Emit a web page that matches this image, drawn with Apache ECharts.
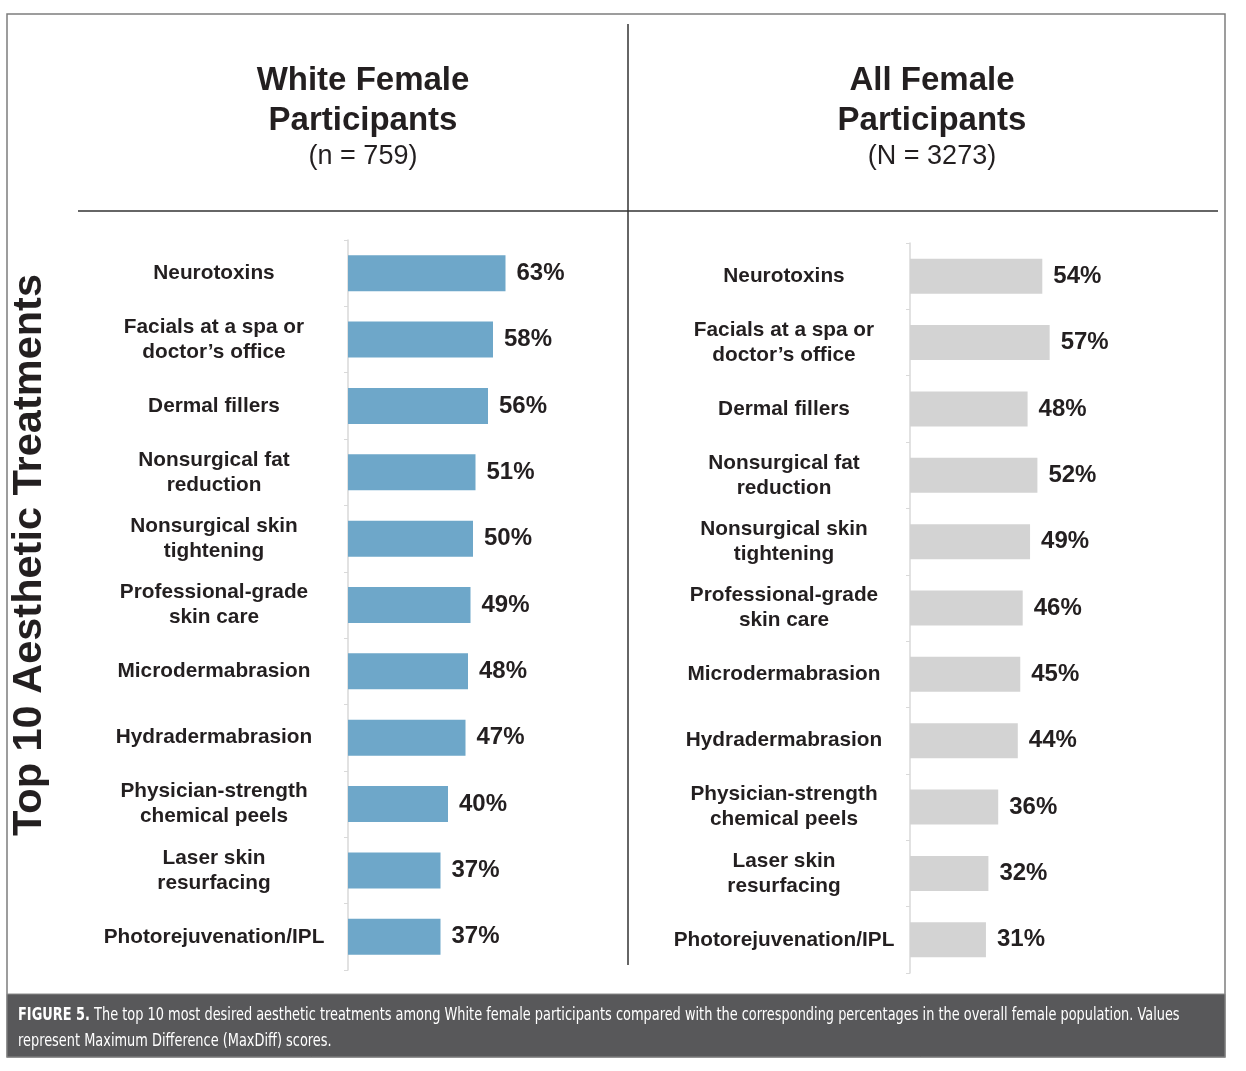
<!DOCTYPE html>
<html>
<head>
<meta charset="utf-8">
<script src="https://cdn.jsdelivr.net/npm/echarts@6/dist/echarts.min.js"></script>
<style>
  html, body { margin: 0; padding: 0; background: #fff; }
  #chart { width: 1246px; height: 1071px; }
</style>
</head>
<body>
<div id="chart"></div>
<script>
const treatments = [
  "Neurotoxins",
  "Facials at a spa or\ndoctor’s office",
  "Dermal fillers",
  "Nonsurgical fat\nreduction",
  "Nonsurgical skin\ntightening",
  "Professional-grade\nskin care",
  "Microdermabrasion",
  "Hydradermabrasion",
  "Physician-strength\nchemical peels",
  "Laser skin\nresurfacing",
  "Photorejuvenation/IPL",
];
const whiteFemale = [63, 58, 56, 51, 50, 49, 48, 47, 40, 37, 37];
const allFemale = [54, 57, 48, 52, 49, 46, 45, 44, 36, 32, 31];

const panelTitles = [
  { head: "White Female\nParticipants", n: "(n = 759)" },
  { head: "All Female\nParticipants", n: "(N = 3273)" },
];
const sideTitle = "Top 10 Aesthetic Treatments";
const caption1 = "The top 10 most desired aesthetic treatments among White female participants compared with the corresponding percentages in the overall female population. Values";
const caption2 = "represent Maximum Difference (MaxDiff) scores.";

const FONT = "'Liberation Sans', Arial, sans-serif";
const NARROW = "'Liberation Sans Narrow', 'DejaVu Sans Condensed', sans-serif";
const INK = "#231f20";

// squeeze the caption to the width of the box
function measure(text, font) {
  const ctx = document.createElement("canvas").getContext("2d");
  ctx.font = font;
  return ctx.measureText(text).width;
}
const capW =
  measure("FIGURE 5. ", "bold 18px " + NARROW) + measure(caption1, "18px " + NARROW);
const capScale = Math.min(1, 1162 / capW);

const chart = echarts.init(document.getElementById("chart"));

function catAxis(gridIndex, margin) {
  return {
    type: "category",
    gridIndex,
    data: treatments,
    inverse: true,
    axisLine: { lineStyle: { color: "#d9d9d9", width: 1.5 } },
    axisTick: { show: true, length: 4, lineStyle: { color: "#d9d9d9" } },
    axisLabel: {
      margin,
      align: "center",
      fontFamily: FONT,
      fontSize: 20.8,
      fontWeight: "bold",
      lineHeight: 25,
      color: INK,
    },
  };
}

function valAxis(gridIndex) {
  return { type: "value", gridIndex, min: 0, max: 100, show: false };
}

function barSeries(idx, data, color, width) {
  return {
    type: "bar",
    xAxisIndex: idx,
    yAxisIndex: idx,
    data,
    barWidth: width,
    itemStyle: { color },
    label: {
      show: true,
      position: "right",
      distance: 11,
      formatter: "{c}%",
      fontFamily: FONT,
      fontSize: 24,
      fontWeight: "bold",
      color: INK,
    },
    silent: true,
  };
}

function titleBlock(cx, t) {
  return [
    {
      type: "text",
      x: cx,
      y: 101,
      style: {
        text: t.head,
        fontFamily: FONT,
        fontSize: 33,
        fontWeight: "bold",
        lineHeight: 40,
        fill: INK,
        align: "center",
        verticalAlign: "middle",
      },
    },
    {
      type: "text",
      x: cx,
      y: 157,
      style: {
        text: t.n,
        fontFamily: FONT,
        fontSize: 27,
        fill: INK,
        align: "center",
        verticalAlign: "middle",
      },
    },
  ];
}

chart.setOption({
  animation: false,
  grid: [
    { left: 348, top: 240, width: 250, height: 730 },
    { left: 910, top: 243, width: 245, height: 730 },
  ],
  xAxis: [valAxis(0), valAxis(1)],
  yAxis: [catAxis(0, 134), catAxis(1, 126)],
  series: [
    barSeries(0, whiteFemale, "#6ea7c9", 36),
    barSeries(1, allFemale, "#d3d3d3", 35),
  ],
  graphic: [
    {
      type: "rect",
      shape: { x: 7, y: 14, width: 1218, height: 1043 },
      style: { fill: "none", stroke: "#7d7d7d", lineWidth: 1.5 },
    },
    {
      type: "line",
      shape: { x1: 78, y1: 211, x2: 1218, y2: 211 },
      style: { stroke: "#333", lineWidth: 1.5 },
    },
    {
      type: "line",
      shape: { x1: 628, y1: 24, x2: 628, y2: 965 },
      style: { stroke: "#333", lineWidth: 1.5 },
    },
    ...titleBlock(363, panelTitles[0]),
    ...titleBlock(932, panelTitles[1]),
    {
      type: "text",
      x: 30,
      y: 555,
      rotation: Math.PI / 2,
      style: {
        text: sideTitle,
        fontFamily: FONT,
        fontSize: 41.5,
        fontWeight: "bold",
        fill: INK,
        align: "center",
        verticalAlign: "middle",
      },
    },
    {
      type: "rect",
      shape: { x: 7, y: 994, width: 1218, height: 63 },
      style: { fill: "#58585a", stroke: "#8a8a8a", lineWidth: 1 },
    },
    {
      type: "text",
      x: 18,
      y: 1028,
      scaleX: capScale,
      style: {
        text: "{b|FIGURE 5.} " + caption1 + "\n" + caption2,
        fontFamily: NARROW,
        fontSize: 18,
        lineHeight: 26,
        fill: "#fff",
        align: "left",
        verticalAlign: "middle",
        rich: {
          b: { fontFamily: NARROW, fontSize: 18, fontWeight: "bold", fill: "#fff" },
        },
      },
    },
  ],
});
</script>
</body>
</html>
